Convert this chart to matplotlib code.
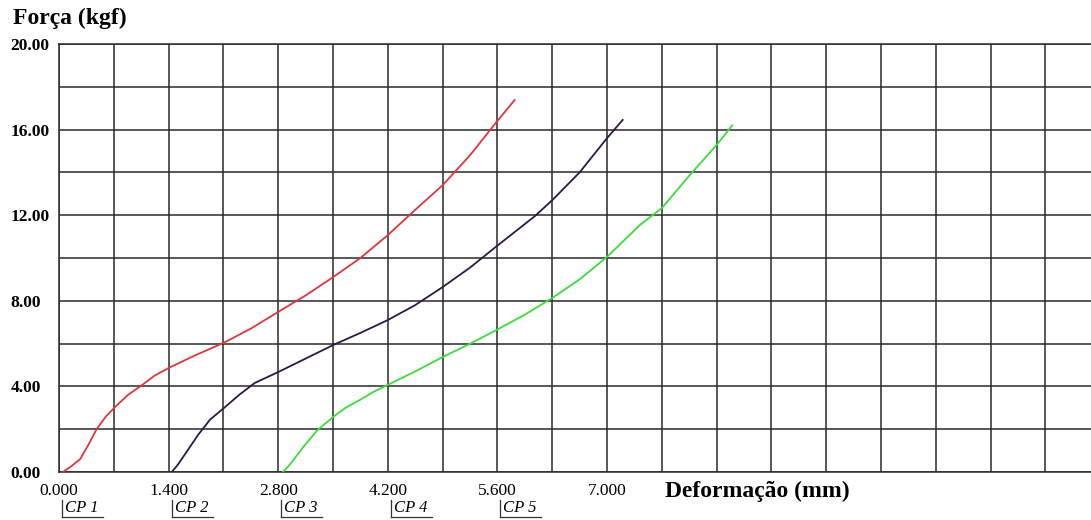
import numpy as np
import matplotlib
matplotlib.use("Agg")
import matplotlib.pyplot as plt
from matplotlib import transforms

plt.rcParams['font.family'] = ['Liberation Serif', 'DejaVu Serif']

# curves (deformation mm, force kgf)
cp1_x = [0.05, 0.15, 0.27, 0.38, 0.48, 0.60, 0.72, 0.88, 1.06, 1.22, 1.40, 1.75, 2.10, 2.45,
         2.80, 3.15, 3.50, 3.85, 4.20, 4.55, 4.90, 5.25, 5.59, 5.82]
cp1_y = [0.0, 0.25, 0.6, 1.3, 2.0, 2.6, 3.05, 3.6, 4.06, 4.5, 4.86, 5.47, 6.03, 6.7,
         7.48, 8.25, 9.1, 10.0, 11.07, 12.25, 13.4, 14.8, 16.36, 17.38]

cp2_x = [1.44, 1.52, 1.65, 1.78, 1.93, 2.11, 2.30, 2.50, 2.80, 3.15, 3.50, 3.85, 4.20,
         4.55, 4.90, 5.25, 5.59, 6.08, 6.30, 6.65, 7.00, 7.20]
cp2_y = [0.0, 0.35, 1.05, 1.75, 2.45, 3.0, 3.6, 4.16, 4.67, 5.3, 5.93, 6.5, 7.1,
         7.8, 8.64, 9.55, 10.55, 11.96, 12.7, 14.0, 15.6, 16.45]

cp3_x = [2.86, 2.95, 3.12, 3.30, 3.50, 3.66, 3.84, 4.02, 4.20, 4.55, 4.90, 5.27, 5.59,
         5.95, 6.30, 6.65, 7.00, 7.42, 7.70, 8.08, 8.40, 8.60]
cp3_y = [0.0, 0.35, 1.17, 1.95, 2.57, 3.0, 3.36, 3.75, 4.07, 4.7, 5.37, 6.03, 6.64,
         7.35, 8.13, 9.0, 10.05, 11.54, 12.33, 13.97, 15.28, 16.2]

series = [(cp1_x, cp1_y, '#e0353c'), (cp2_x, cp2_y, '#2b1a45'), (cp3_x, cp3_y, '#3ddc3d')]

x_ticks = np.arange(0, 13.2, 0.7)
x_tick_labels = ['0.000', '', '1.400', '', '2.800', '', '4.200', '', '5.600', '', '7.000']
y_ticks = np.arange(0, 20.1, 2)
y_tick_labels = ['0.00', '', '4.00', '', '8.00', '', '12.00', '', '16.00', '', '20.00']
cp_labels = ['CP 1', 'CP 2', 'CP 3', 'CP 4', 'CP 5']
cp_pos = [0.0, 1.4, 2.8, 4.2, 5.6]

W, H = 1091, 520
fig = plt.figure(figsize=(W / 100, H / 100), dpi=100)
ax = fig.add_axes([59 / W, 1 - 472 / H, 1 - 59 / W, (472 - 44) / H])

for xs, ys, c in series:
    ax.plot(xs, ys, color=c, lw=1.3, zorder=3)

ax.set_xlim(0, (W - 59) / 54.8 * 0.7)
ax.set_ylim(0, 20)
ax.set_xticks(x_ticks)
ax.set_xticklabels(x_tick_labels + [''] * (len(x_ticks) - len(x_tick_labels)), fontsize=12.5)
ax.set_yticks(y_ticks)
ax.set_yticklabels(y_tick_labels, fontsize=12.5, fontweight='bold', ha='left')
ax.tick_params(axis='x', length=0, pad=8)
ax.tick_params(axis='y', length=0, pad=35)
ax.grid(True, color='#2a2a2a', lw=1.1)
ax.set_axisbelow(True)
for s in ['left', 'bottom', 'top']:
    ax.spines[s].set_color('#2a2a2a')
    ax.spines[s].set_linewidth(1.1)
ax.spines['right'].set_visible(False)

fig.text(13 / W, 1 - 18 / H, 'Força (kgf)', fontsize=17, fontweight='bold', va='center')
fig.text(665 / W, 1 - 491 / H, 'Deformação (mm)', fontsize=17, fontweight='bold', va='center')

# CP markers under the axis
base = ax.get_xaxis_transform()
for lab, p in zip(cp_labels, cp_pos):
    t_txt = transforms.offset_copy(base, fig=fig, x=6 * 0.72, units='points')
    ax.text(p, (472 - 508) / 428, lab, transform=t_txt, fontsize=12, style='italic',
            va='center', ha='left', clip_on=False)
    t_bar = transforms.offset_copy(base, fig=fig, x=3 * 0.72, units='points')
    ax.plot([p, p], [(472 - 500) / 428, (472 - 517) / 428], transform=t_bar,
            color='#333', lw=0.9, clip_on=False)
    ax.plot([p, p + 41 / 54.8 * 0.7], [(472 - 517) / 428] * 2, transform=t_bar,
            color='#333', lw=0.9, clip_on=False)

fig.savefig('out.png', dpi=100)
